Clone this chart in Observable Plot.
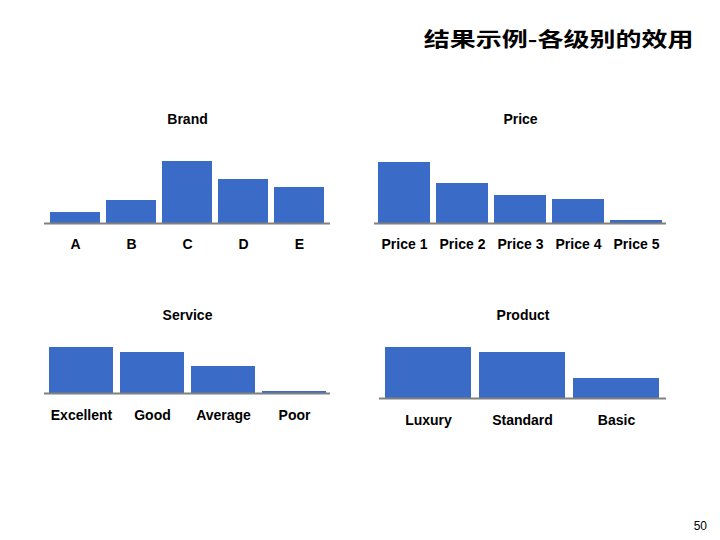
<!DOCTYPE html>
<html>
<head>
<meta charset="utf-8">
<script src="https://cdn.jsdelivr.net/npm/d3@7"></script>
<script src="https://cdn.jsdelivr.net/npm/@observablehq/plot@0.6"></script>
<style>
  html, body { margin: 0; padding: 0; background: #fff; }
  #page { position: relative; width: 720px; height: 540px; overflow: hidden; background: #fff; }
  #title { position: absolute; right: 27px; top: 25px; font-family: "Noto Sans CJK SC", sans-serif; font-weight: 700; font-size: 20px; line-height: 28px; transform: scaleX(1.3); transform-origin: right center; white-space: nowrap; color: #000; }
  #pageno { position: absolute; right: 13px; top: 519px; font-family: "Liberation Sans", Arial, sans-serif; font-size: 12px; color: #000; }
  .chart { position: absolute; }
</style>
</head>
<body>
<div id="page">
  <div id="title">结果示例-各级别的效用</div>
  <div id="pageno">50</div>
</div>
<script>
// ---- data ----
const brandCats = ["A", "B", "C", "D", "E"];
const brandVals = [11, 23, 62, 44, 36];
const priceCats = ["Price 1", "Price 2", "Price 3", "Price 4", "Price 5"];
const priceVals = [61, 40, 28, 24, 3];
const serviceCats = ["Excellent", "Good", "Average", "Poor"];
const serviceVals = [46, 41, 27, 2];
const productCats = ["Luxury", "Standard", "Basic"];
const productVals = [51, 46, 20];
const chartTitles = ["Brand", "Price", "Service", "Product"];

const barColor = "#3a6bc6";
const axisColor = "#808080";

function chart(o) {
  const data = o.cats.map((c, i) => ({cat: c, val: o.vals[i]}));
  const svg = Plot.plot({
    width: 360,
    height: o.height,
    marginLeft: o.ml,
    marginRight: o.mr,
    marginTop: o.mt,
    marginBottom: o.mb,
    style: {fontFamily: "'Liberation Sans', Arial, sans-serif", fontSize: "14px", fontWeight: "bold", color: "#000", background: "transparent", overflow: "visible"},
    x: {domain: o.cats, paddingInner: o.pi, paddingOuter: o.po, label: null, axis: null},
    y: {domain: [0, 70], axis: null},
    marks: [
      Plot.barY(data, {x: "cat", y: "val", fill: barColor}),
      Plot.ruleY([0], {stroke: axisColor, strokeWidth: 2}),
      Plot.axisX({tickSize: 0, tickPadding: o.tp, label: null, fontSize: 14, fontWeight: "bold"}),
      Plot.text([o.title], {text: d => d, frameAnchor: "top", dy: o.tdy, fontSize: 14, fontWeight: "bold", fill: "#000"})
    ]
  });
  svg.classList.add("chart");
  svg.style.left = o.left + "px";
  svg.style.top = o.top + "px";
  document.getElementById("page").appendChild(svg);
}

chart({title: chartTitles[0], cats: brandCats, vals: brandVals, left: 0, top: 100, height: 160, ml: 44, mr: 30, mt: 53, mb: 37, pi: 0.1, po: 0.06, tp: 16, tdy: -39});
chart({title: chartTitles[1], cats: priceCats, vals: priceVals, left: 360, top: 100, height: 160, ml: 14, mr: 54, mt: 53, mb: 37, pi: 0.1, po: 0.05, tp: 16, tdy: -39});
chart({title: chartTitles[2], cats: serviceCats, vals: serviceVals, left: 0, top: 300, height: 140, ml: 44, mr: 30, mt: 23, mb: 47, pi: 0.1, po: 0.055, tp: 17, tdy: -13});
chart({title: chartTitles[3], cats: productCats, vals: productVals, left: 360, top: 300, height: 140, ml: 19, mr: 54, mt: 28, mb: 42, pi: 0.08, po: 0.06, tp: 17, tdy: -18});
</script>
</body>
</html>
